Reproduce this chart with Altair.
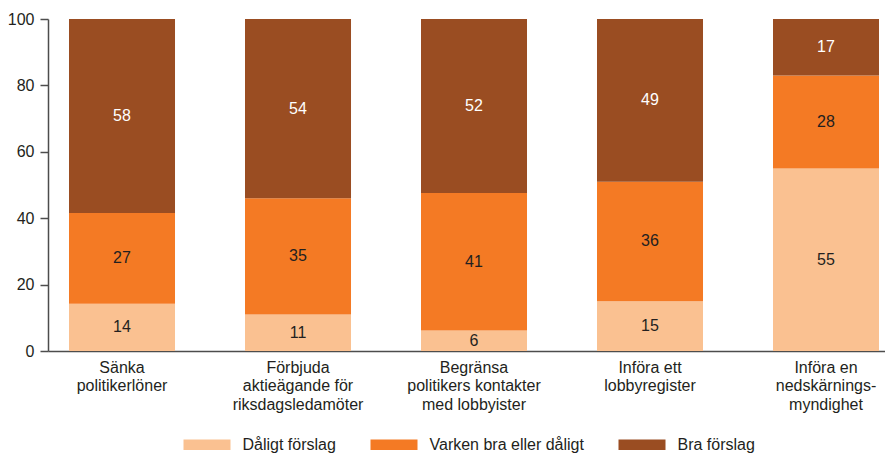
import altair as alt
import pandas as pd

categories = [
    "Sänka|politikerlöner",
    "Förbjuda|aktieägande för|riksdagsledamöter",
    "Begränsa|politikers kontakter|med lobbyister",
    "Införa ett|lobbyregister",
    "Införa en|nedskärnings-|myndighet",
]
series = ["Dåligt förslag", "Varken bra eller dåligt", "Bra förslag"]
daligt = [14.2, 11, 6.2, 15, 55]
varken = [27.4, 35, 41.4, 36, 28]
bra = [58.4, 54, 52.4, 49, 17]
colors = ["#FAC191", "#F47A24", "#9A4D22"]
text_colors = ["#231F20", "#231F20", "#FFFFFF"]
y_ticks = [0, 20, 40, 60, 80, 100]

rows = []
for i, cat in enumerate(categories):
    for j, (s, vals) in enumerate(zip(series, [daligt, varken, bra])):
        rows.append({"cat": cat, "serie": s, "ord": j, "value": vals[i]})
df = pd.DataFrame(rows)

FONT = "Liberation Sans"

base = alt.Chart(df).transform_stack(
    stack="value", groupby=["cat"], as_=["y0", "y1"], sort=[alt.SortField("ord")]
).transform_calculate(
    mid="(datum.y0 + datum.y1) / 2",
    lab="format(datum.value, '.0f')",
)

x_enc = alt.X(
    "cat:N",
    sort=categories,
    title=None,
    scale=alt.Scale(paddingInner=0.3977, paddingOuter=0.0767, align=0.778),
    axis=alt.Axis(
        labelExpr="split(datum.label, '|')",
        labelAngle=0,
        labelFontSize=16,
        labelFont=FONT,
        labelColor="#231F20",
        labelLineHeight=18.5,
        labelBaseline="top",
        labelPadding=8,
        ticks=False,
        domainColor="#4D4D4D",
        domainWidth=1.5,
        labelLimit=300,
    ),
)

bars = base.mark_bar().encode(
    x=x_enc,
    y=alt.Y(
        "y0:Q",
        title=None,
        scale=alt.Scale(domain=[0, 100], nice=False),
        axis=alt.Axis(
            values=y_ticks,
            grid=False,
            tickSize=8,
            tickColor="#4D4D4D",
            tickWidth=1.5,
            domainColor="#4D4D4D",
            domainWidth=1.5,
            labelFontSize=16,
            labelFont=FONT,
            labelColor="#231F20",
            labelPadding=6,
        ),
    ),
    y2="y1:Q",
    color=alt.Color(
        "serie:N",
        sort=series,
        scale=alt.Scale(domain=series, range=colors),
        legend=alt.Legend(
            title=None,
            orient="none",
            legendX=135.5,
            legendY=402,
            direction="horizontal",
            symbolType="M-1,-0.22L1,-0.22L1,0.22L-1,0.22Z",
            symbolSize=2209,
            symbolStrokeWidth=0,
            symbolOpacity=1,
            labelFontSize=16,
            labelFont=FONT,
            labelColor="#231F20",
            labelOffset=12,
            columnPadding=34,
            padding=0,
            labelLimit=300,
        ),
    ),
    order=alt.Order("ord:Q"),
)

texts = base.mark_text(fontSize=16, font=FONT, baseline="middle").encode(
    x=alt.X("cat:N", sort=categories),
    y=alt.Y("mid:Q"),
    text="lab:N",
    color=alt.Color(
        "serie:N", sort=series,
        scale=alt.Scale(domain=series, range=text_colors), legend=None
    ),
)

chart = alt.layer(bars, texts).resolve_scale(color="independent").properties(
    width=837,
    height=332,
    autosize=alt.AutoSizeParams(type="none"),
    padding={"left": 40, "top": 11, "right": 0, "bottom": 104},
).configure_view(stroke=None)

chart.save("out.html", embed_options={"renderer": "svg", "actions": False})
